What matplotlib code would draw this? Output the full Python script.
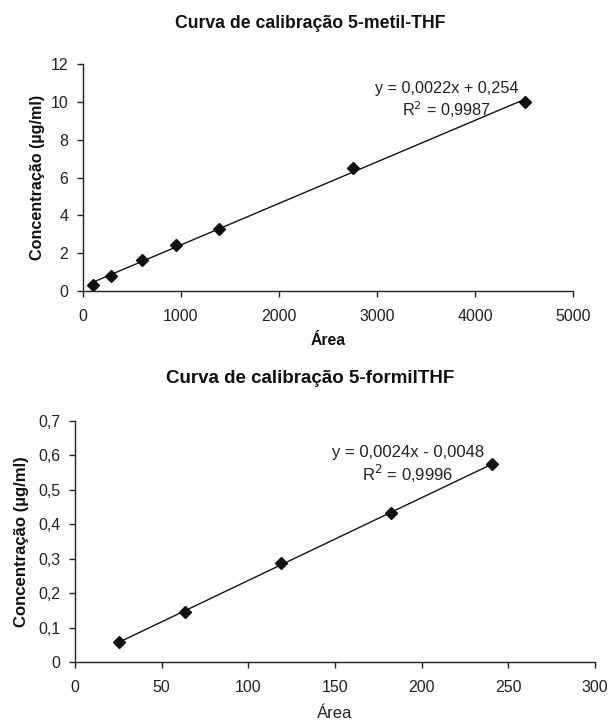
import numpy as np
import matplotlib
matplotlib.use("Agg")
import matplotlib.pyplot as plt
from matplotlib.ticker import FuncFormatter

plt.rcParams['font.family'] = ['Liberation Sans', 'DejaVu Sans']

# Top chart data: 5-metil-THF
title1 = "Curva de calibração 5-metil-THF"
area1 = [100, 286, 603, 952, 1385, 2758, 4512]
conc1 = [0.33, 0.80, 1.62, 2.43, 3.27, 6.50, 10.0]
eq1 = "y = 0,0022x + 0,254\nR$^2$ = 0,9987"
xticks1 = [0, 1000, 2000, 3000, 4000, 5000]
yticks1 = [0, 2, 4, 6, 8, 10, 12]

# Bottom chart data: 5-formilTHF
title2 = "Curva de calibração 5-formilTHF"
area2 = [25.2, 63.5, 118.9, 182.4, 240.5]
conc2 = [0.058, 0.145, 0.288, 0.432, 0.575]
eq2 = "y = 0,0024x - 0,0048\nR$^2$ = 0,9996"
xticks2 = [0, 50, 100, 150, 200, 250, 300]
yticks2 = [0, 0.1, 0.2, 0.3, 0.4, 0.5, 0.6, 0.7]

ylabel = "Concentração (µg/ml)"
xlabel = "Área"

W, H = 609, 721
fig = plt.figure(figsize=(W / 100, H / 100), dpi=100)

def ax_rect(l, r, t, b):
    return [l / W, 1 - b / H, (r - l) / W, (b - t) / H]

def style(ax):
    for s in ['top', 'right']:
        ax.spines[s].set_visible(False)
    for s in ['left', 'bottom']:
        ax.spines[s].set_color('#222222')
        ax.spines[s].set_linewidth(1.0)
    ax.tick_params(direction='out', length=4, width=1, colors='#222222',
                   labelsize=11.5, labelcolor='#222222')
    ax.tick_params(axis='x', pad=9)
    ax.tick_params(axis='y', pad=6.5)

comma = FuncFormatter(lambda v, p: ('%g' % round(v, 3)).replace('.', ','))

# Top chart
ax1 = fig.add_axes(ax_rect(83, 573, 64, 291))
x1 = np.array(area1); y1 = np.array(conc1)
c = np.polyfit(x1, y1, 1)
xs = np.array([x1.min(), x1.max()])
ax1.plot(xs, np.polyval(c, xs), color='#111111', lw=1.0)
ax1.plot(x1, y1, 'D', color='#111111', ms=6.3)
ax1.set_xlim(0, 5000); ax1.set_ylim(0, 12)
ax1.set_xticks(xticks1); ax1.set_yticks(yticks1)
style(ax1)
ax1.text(0.463, 1.18, title1, transform=ax1.transAxes, ha='center', va='center',
         fontsize=12.7, fontweight='bold', color='#111111')
ax1.set_ylabel(ylabel, fontsize=11.6, fontweight='bold', color='#111111')
ax1.yaxis.set_label_coords(-0.0935, 0.5)
ax1.set_xlabel(xlabel, fontsize=11.3, fontweight='bold', color='#111111')
ax1.xaxis.set_label_coords(0.5, -0.216)
ax1.xaxis.label.set_va('center')
ax1.yaxis.label.set_va('center')
ax1.text(0.742, 0.84, eq1, transform=ax1.transAxes, ha='center', va='center',
         fontsize=11.7, color='#222222', linespacing=1.2)

# Bottom chart
ax2 = fig.add_axes(ax_rect(75, 595, 421, 662))
x2 = np.array(area2); y2 = np.array(conc2)
c2 = np.polyfit(x2, y2, 1)
xs2 = np.array([x2.min(), x2.max()])
ax2.plot(xs2, np.polyval(c2, xs2), color='#111111', lw=1.0)
ax2.plot(x2, y2, 'D', color='#111111', ms=6.3)
ax2.set_xlim(0, 300); ax2.set_ylim(0, 0.7)
ax2.set_xticks(xticks2); ax2.set_yticks(yticks2)
ax2.yaxis.set_major_formatter(comma)
style(ax2)
ax2.text(0.453, 1.178, title2, transform=ax2.transAxes, ha='center', va='center',
         fontsize=13.5, fontweight='bold', color='#111111')
ax2.set_ylabel(ylabel, fontsize=12.1, fontweight='bold', color='#111111')
ax2.yaxis.set_label_coords(-0.102, 0.5)
ax2.set_xlabel(xlabel, fontsize=12, color='#222222')
ax2.xaxis.set_label_coords(0.5, -0.212)
ax2.xaxis.label.set_va('center')
ax2.yaxis.label.set_va('center')
ax2.text(0.64, 0.817, eq2, transform=ax2.transAxes, ha='center', va='center',
         fontsize=12, color='#222222', linespacing=1.2)

fig.savefig("out.png", dpi=100, facecolor='white')
